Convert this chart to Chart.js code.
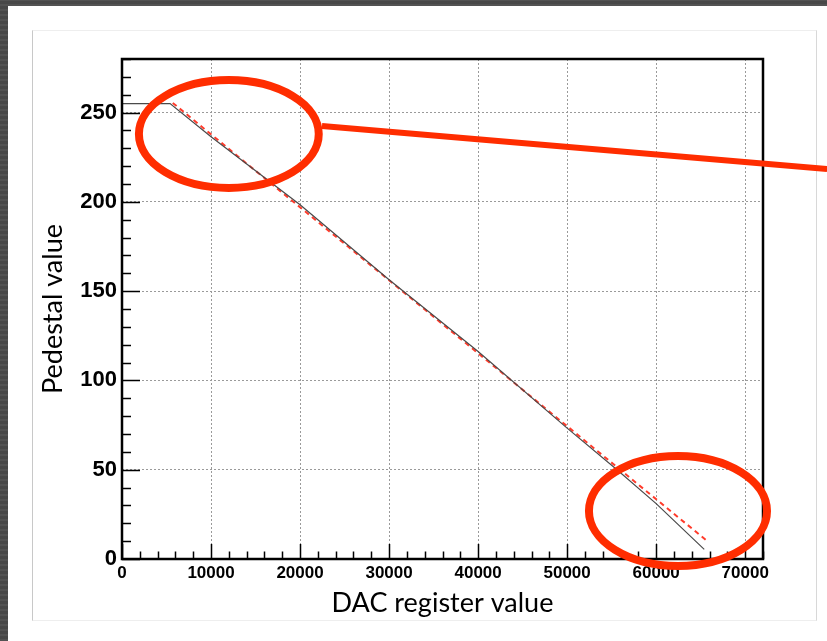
<!DOCTYPE html>
<html>
<head>
<meta charset="utf-8">
<script src="https://cdn.jsdelivr.net/npm/chart.js@4.4.1/dist/chart.umd.min.js"></script>
<style>
  html, body { margin: 0; padding: 0; }
  body {
    width: 827px; height: 641px; overflow: hidden; position: relative;
    background: #4c4c4c;
    background-image: repeating-linear-gradient(0deg, rgba(255,255,255,0.04) 0px, rgba(255,255,255,0.04) 2px, rgba(0,0,0,0.05) 2px, rgba(0,0,0,0.05) 5px);
  }
  #sheet { position: absolute; left: 8px; top: 6px; right: 0; bottom: 0; background: #fff; }
  #panel {
    position: absolute; left: 32px; top: 30px; width: 783px; height: 589px;
    background: #fff; border: 1px solid #eeeeee; border-left-color: #c8c8c8; border-right-color: #d8d8d8;
  }
  #chart { position: absolute; left: 0; top: 0; }
</style>
</head>
<body>
<div id="sheet"></div>
<div id="panel"></div>
<canvas id="chart" width="827" height="641"></canvas>
<script>
// measured pedestal vs DAC register value
const dacValues = [0, 5400, 10000, 20000, 30000, 40000, 50000, 55600, 60000, 65400];
const pedestalValues = [255, 255, 236.5, 198.4, 156.4, 116.2, 73.3, 50, 31, 5.4];

// linear fit (red dashed)
const fitDac = [5700, 65600];
const fitPedestal = [255.4, 10.6];

const xMax = 72000;
const yMax = 280;

// hand-drawn highlight marks, in data units
const circles = [
    { x: 12000, y: 238, rx: 10100, ry: 30.2 },
    { x: 62450, y: 26.9, rx: 10000, ry: 30.8 }
];
const pointer = { x1: 22465, y1: 242.5, x2: 79200, y2: 218.4 };

const red = "#ff2d00";

const toPoints = (xs, ys) => xs.map((x, i) => ({ x: x, y: ys[i] }));

// inner ticks + frame, like the ROOT canvas
const framePlugin = {
    id: "frame",
    afterDatasetsDraw(chart) {
        const ctx = chart.ctx;
        const a = chart.chartArea;
        const xs = chart.scales.x, ys = chart.scales.y;
        ctx.save();
        ctx.strokeStyle = "#000";
        ctx.lineWidth = 1.5;
        ctx.beginPath();
        ys.ticks.forEach(t => {
            const py = Math.round(ys.getPixelForValue(t.value)) + 0.5;
            const len = t.value % 50 === 0 ? 18 : 9;
            ctx.moveTo(a.left, py);
            ctx.lineTo(a.left + len, py);
        });
        xs.ticks.forEach(t => {
            const px = Math.round(xs.getPixelForValue(t.value)) + 0.5;
            const len = t.value % 10000 === 0 ? 15 : 7.5;
            ctx.moveTo(px, a.bottom);
            ctx.lineTo(px, a.bottom - len);
        });
        ctx.stroke();
        ctx.lineWidth = 2.5;
        ctx.strokeRect(a.left, a.top, a.right - a.left, a.bottom - a.top);
        ctx.restore();
    },
    afterDraw(chart) {
        const ctx = chart.ctx;
        const xs = chart.scales.x, ys = chart.scales.y;
        const pxPerX = xs.getPixelForValue(1000) - xs.getPixelForValue(0);
        const pxPerY = ys.getPixelForValue(0) - ys.getPixelForValue(10);
        ctx.save();
        ctx.strokeStyle = red;
        ctx.lineWidth = 8;
        circles.forEach(c => {
            ctx.beginPath();
            ctx.ellipse(xs.getPixelForValue(c.x), ys.getPixelForValue(c.y),
                c.rx / 1000 * pxPerX, c.ry / 10 * pxPerY, 0, 0, Math.PI * 2);
            ctx.stroke();
        });
        ctx.lineWidth = 6;
        ctx.beginPath();
        ctx.moveTo(xs.getPixelForValue(pointer.x1), ys.getPixelForValue(pointer.y1));
        ctx.lineTo(xs.getPixelForValue(pointer.x2), ys.getPixelForValue(pointer.y2));
        ctx.stroke();
        ctx.restore();
    }
};

const titleFont = { family: "Lato", size: 27, weight: "normal" };

new Chart(document.getElementById("chart"), {
    type: "line",
    data: {
        datasets: [{
            label: "Pedestal",
            data: toPoints(dacValues, pedestalValues),
            borderColor: "#4a4a4a",
            borderWidth: 1.2,
            pointRadius: 0,
            tension: 0
        }, {
            label: "Fit",
            data: toPoints(fitDac, fitPedestal),
            borderColor: "#ff3b2b",
            borderWidth: 2,
            borderDash: [5, 4],
            pointRadius: 0
        }]
    },
    options: {
        responsive: false,
        animation: false,
        layout: { padding: { left: 34, top: 59, right: 64, bottom: 22 } },
        plugins: { legend: { display: false }, tooltip: { enabled: false } },
        scales: {
            x: {
                type: "linear",
                min: 0,
                max: xMax,
                afterFit: s => { s.height = 60; },
                border: { display: false, dash: [2, 2] },
                grid: {
                    drawTicks: false,
                    color: c => (c.tick && c.tick.value > 0 && c.tick.value % 10000 === 0) ? "#9a9a9a" : "rgba(0,0,0,0)",
                    lineWidth: 1
                },
                ticks: {
                    stepSize: 2000,
                    autoSkip: false,
                    maxRotation: 0,
                    padding: 4,
                    color: "#000",
                    font: { family: "Liberation Sans", size: 17, weight: "bold" },
                    callback: v => v % 10000 === 0 ? String(v) : ""
                },
                title: {
                    display: true,
                    text: "DAC register value",
                    color: "#000",
                    font: titleFont,
                    padding: { top: 0, bottom: 0 }
                }
            },
            y: {
                min: 0,
                max: yMax,
                afterFit: s => { s.width = 88; },
                border: { display: false, dash: [2, 2] },
                grid: {
                    drawTicks: false,
                    color: c => (c.tick && c.tick.value > 0 && c.tick.value % 50 === 0) ? "#9a9a9a" : "rgba(0,0,0,0)",
                    lineWidth: 1
                },
                ticks: {
                    stepSize: 10,
                    autoSkip: false,
                    padding: 5,
                    color: "#000",
                    font: { family: "Liberation Sans", size: 22, weight: "bold" },
                    callback: v => v % 50 === 0 ? String(v) : ""
                },
                title: {
                    display: true,
                    text: "Pedestal value",
                    color: "#000",
                    font: titleFont,
                    padding: { top: 3, bottom: 0 }
                }
            }
        }
    },
    plugins: [framePlugin]
});
</script>
</body>
</html>
